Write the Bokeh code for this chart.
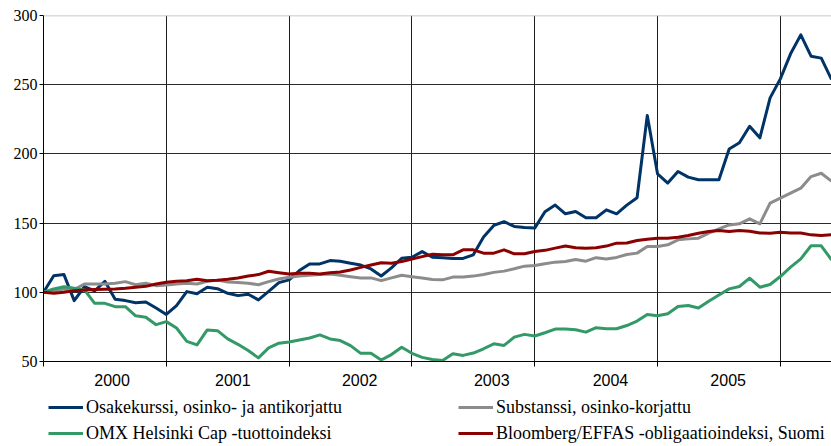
from bokeh.plotting import figure
from bokeh.layouts import column
from bokeh.models import FixedTicker, Span, Legend, LegendItem, Range1d
from bokeh.embed import file_html
from bokeh.resources import INLINE

years = ["2000", "2001", "2002", "2003", "2004", "2005"]
year_label_pos = [6.7, 18.5, 30.9, 43.8, 55.4, 66.9]
year_bounds = [0, 12, 24, 36, 48, 60, 72]

osake = [100, 112, 112.8, 94, 104, 101, 108, 95, 94, 92.5, 93, 88.7, 84, 90.4, 100.5, 99,
         103.6, 102.6, 99.3, 97.6, 98.6, 94.5, 100.7, 107, 109, 115.7, 120.5, 120.5, 122.9,
         122.4, 121, 119.7, 116.9, 111.8, 117.6, 124.6, 125.3, 129.4, 125.3, 125, 124.5, 124.5,
         127.1, 139.9, 148.3, 151, 147.6, 146.9, 146.4, 158.2, 163, 156.7, 158.4, 153.9, 153.9,
         159.6, 156.7, 163, 168.3, 227.8, 185.6, 178.9, 187.3, 183.2, 181.3, 181.3, 181.3, 203.6,
         208, 220, 211.6, 240.5, 254.2, 272.3, 286, 270.6, 269.2, 253.8]

substanssi = [100, 101, 102.4, 102, 106, 106, 106, 106.5, 107.7, 105.5, 106.5, 104.8, 105.3, 106,
              106.5, 106, 108, 108.8, 107.5, 107, 106.5, 105.5, 107.7, 109.6, 110.8, 111.8, 112.3,
              112.8, 113.2, 112.3, 111.3, 110.4, 110.4, 108.4, 110.4, 112.3, 111.3, 110.4, 109.3,
              109, 111, 111, 111.7, 112.9, 114.4, 115.3, 117, 118.9, 119.4, 120.6, 121.8, 122.3,
              123.7, 122.5, 125, 124, 125.2, 127.3, 128.3, 133.1, 133.1, 134.3, 137.9, 138.6, 139.1,
              142.7, 145.8, 148.7, 149.5, 153.1, 149.5, 164.4, 168, 171.6, 175.2, 183.6, 186, 180.3]

omx = [100, 102.4, 104, 103, 101.7, 92, 92, 89.6, 89.6, 83, 82, 76.6, 78.8, 74.2, 64.6, 62, 72.8,
       72.3, 66.3, 62.4, 57.9, 52.6, 59.8, 63.2, 64.1, 65.6, 67, 69.2, 66.3, 65.1, 61.5, 55.9, 55.9,
       51.1, 55, 60.3, 55.9, 53, 51.4, 50.8, 55.6, 54.4, 56.1, 59.2, 62.8, 61.6, 67.6, 69.6, 68.4,
       70.8, 73.4, 73.4, 72.9, 71.2, 74.4, 73.7, 73.7, 76, 79.2, 84, 83, 84.5, 89.8, 90.5, 88.6,
       93.6, 98.1, 102.5, 104.2, 110.2, 103.7, 105.6, 111.4, 118.2, 124.2, 133.6, 133.6, 123.5]

bloomberg = [100, 99.3, 100, 101.2, 101.7, 102, 102.2, 102.4, 102.9, 103.6, 104.3, 106, 107.2, 108,
             108.4, 109.4, 108.4, 108.7, 109.4, 110.4, 111.8, 112.8, 115.2, 114.2, 113.2, 113.7,
             113.7, 113.2, 114.2, 114.7, 116.1, 118, 119.7, 121.4, 121, 122.2, 124.1, 125.8, 127.5,
             127.1, 127.1, 130.7, 130.7, 128.3, 128.3, 130.7, 127.8, 127.8, 129.5, 130.3, 131.9,
             133.4, 132.2, 131.9, 132.2, 133.4, 135.5, 135.6, 137.4, 138.4, 139.1, 139.1, 139.8, 141,
             142.7, 143.9, 144.6, 143.9, 144.6, 144.1, 142.9, 142.7, 143.4, 142.9, 142.9, 141.5, 141,
             141.7]

series_names = ["Osakekurssi, osinko- ja antikorjattu", "Substanssi, osinko-korjattu",
                "OMX Helsinki Cap -tuottoindeksi", "Bloomberg/EFFAS -obligaatioindeksi, Suomi"]
colors = ["#003366", "#8c8c8c", "#339966", "#8b0000"]
series = [osake, substanssi, omx, bloomberg]

months = list(range(len(osake)))

p = figure(frame_width=788, frame_height=346, output_backend="svg", toolbar_location=None,
           x_range=Range1d(0, 77), y_range=Range1d(50, 300),
           min_border_left=43, min_border_right=0, min_border_top=15, min_border_bottom=34)
p.outline_line_color = None
p.background_fill_color = "white"
p.border_fill_color = "white"

# grid
p.xgrid.ticker = FixedTicker(ticks=year_bounds[1:])
p.xgrid.grid_line_color = "#1e1e1e"
p.xgrid.grid_line_width = 1
p.ygrid.ticker = FixedTicker(ticks=[100, 150, 200, 250])
p.ygrid.grid_line_color = "#2a2a2a"
p.ygrid.grid_line_width = 1
p.add_layout(Span(location=300, dimension="width", line_color="#b8b8b8", line_width=1.5))

# axes
p.xaxis.ticker = FixedTicker(ticks=year_label_pos, minor_ticks=year_bounds)
p.xaxis.major_label_overrides = {pos: y for pos, y in zip(year_label_pos, years)}
p.xaxis.major_tick_out = 0
p.xaxis.major_tick_in = 0
p.xaxis.minor_tick_out = 5
p.xaxis.minor_tick_in = 0
p.xaxis.minor_tick_line_color = "black"
p.xaxis.axis_line_color = "black"
p.xaxis.major_label_standoff = 7
p.xaxis.major_label_text_font = "Liberation Sans"
p.xaxis.major_label_text_font_size = "16px"
p.xaxis.major_label_text_color = "black"

p.yaxis.ticker = FixedTicker(ticks=[50, 100, 150, 200, 250, 300])
p.yaxis.major_tick_out = 4
p.yaxis.major_tick_in = 0
p.yaxis.minor_tick_line_color = None
p.yaxis.axis_line_color = "black"
p.yaxis.major_label_standoff = 2
p.yaxis.major_label_text_font = "Liberation Serif"
p.yaxis.major_label_text_font_size = "16px"
p.yaxis.major_label_text_color = "black"

for vals, c in zip(series, colors):
    p.line(months, vals, line_color=c, line_width=3, line_join="round")

# legend strip below the chart (its series lie outside its visible range)
lg = figure(width=831, height=51, output_backend="svg", toolbar_location=None,
            x_range=Range1d(0, 1), y_range=Range1d(0, 1),
            x_axis_type=None, y_axis_type=None,
            min_border_left=0, min_border_right=0, min_border_top=0, min_border_bottom=0)
lg.outline_line_color = None
lg.xgrid.visible = False
lg.ygrid.visible = False
lg_renderers = [lg.line(months, vals, line_color=c, line_width=3) for vals, c in zip(series, colors)]
items = [LegendItem(label=n, renderers=[r]) for n, r in zip(series_names, lg_renderers)]
legend = Legend(items=items, orientation="horizontal", ncols=2, location=(5, 1),
                glyph_width=35, glyph_height=24, label_height=24, label_width=370,
                label_standoff=3, spacing=2, padding=0, margin=0,
                label_text_font="Liberation Serif", label_text_font_size="18px",
                label_text_color="black", label_text_baseline="middle",
                border_line_color=None, background_fill_alpha=0)
lg.add_layout(legend, "center")

open("out.html", "w").write(file_html(column(p, lg, spacing=0), INLINE))
